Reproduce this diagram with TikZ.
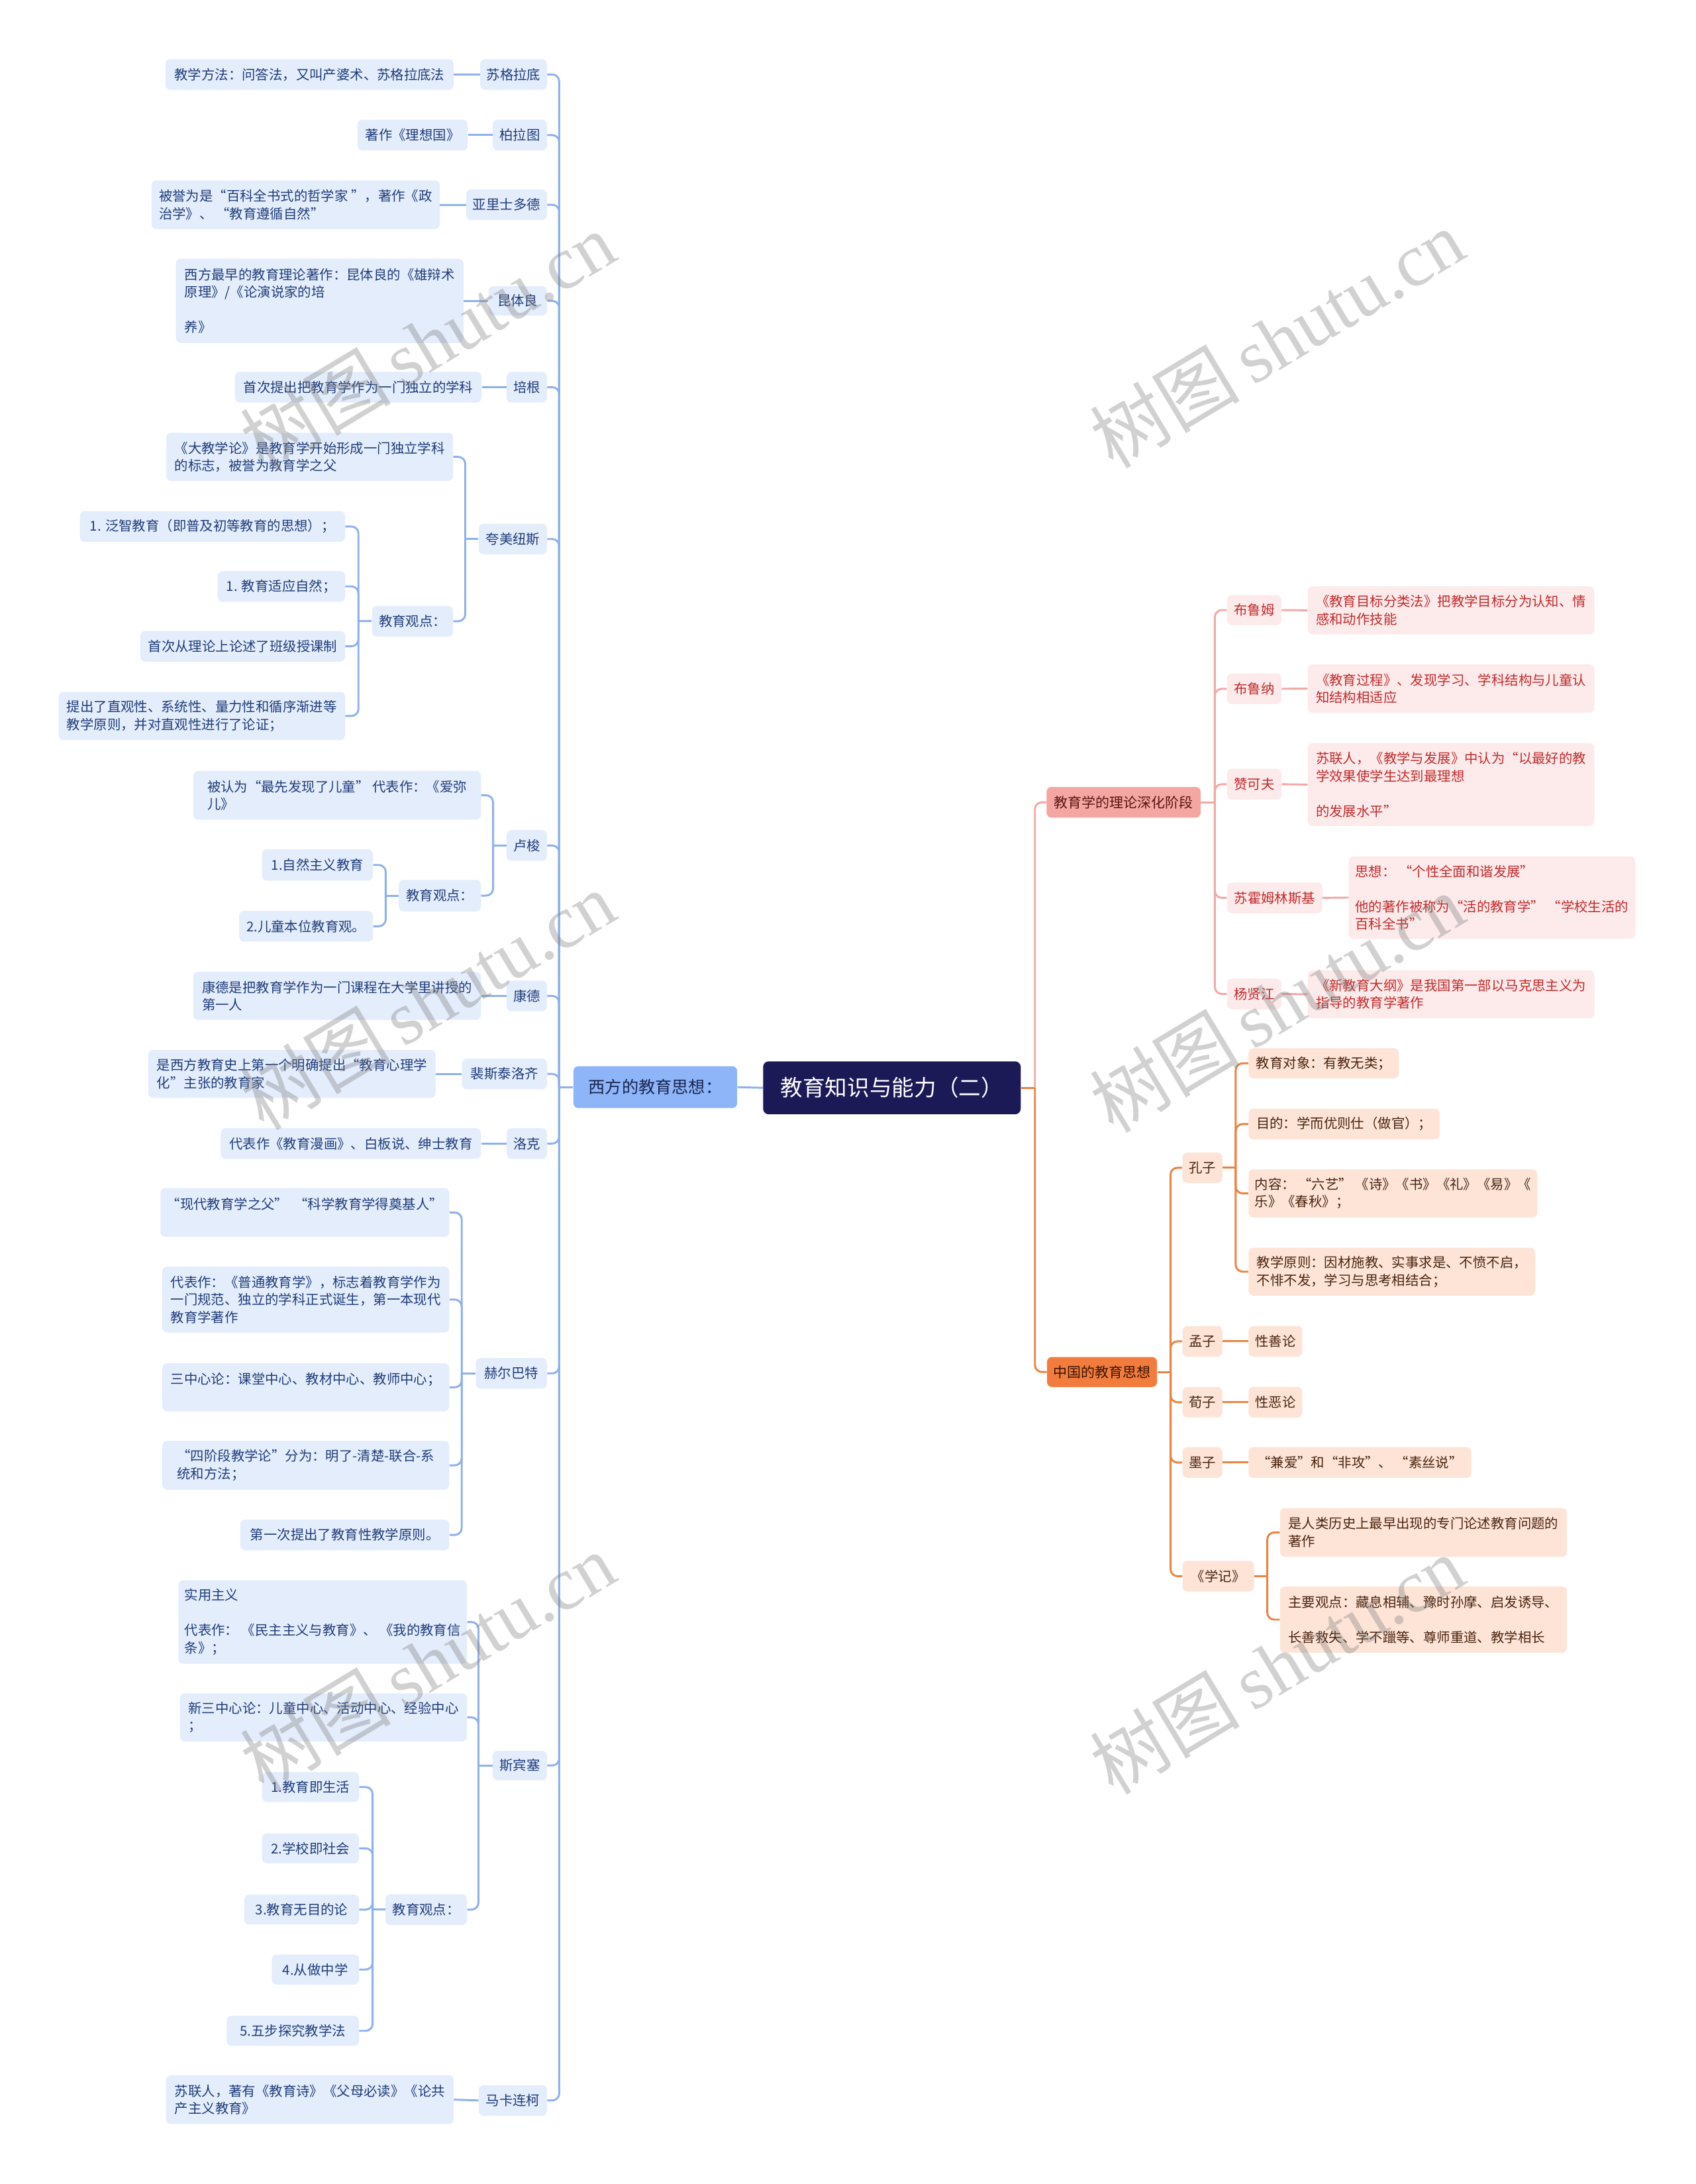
\documentclass[tikz,border=0pt]{standalone}
\usepackage{fontspec}
\setmainfont{Noto Sans CJK SC}
\newfontfamily\wmcjk{Noto Sans CJK SC}
\newfontfamily\wmlat{Liberation Serif}
\definecolor{cBf}{HTML}{E4EDFC}
\definecolor{cBt}{HTML}{1F3C7A}
\definecolor{cBl}{HTML}{8EB1EE}
\definecolor{cWf}{HTML}{8DB5F8}
\definecolor{cWt}{HTML}{1A2550}
\definecolor{cRoot}{HTML}{1B1A56}
\definecolor{cPf}{HTML}{FDEAEA}
\definecolor{cPt}{HTML}{C22B2B}
\definecolor{cPl}{HTML}{F2A9A6}
\definecolor{cPb}{HTML}{F4A6A2}
\definecolor{cPbt}{HTML}{5A1512}
\definecolor{cOf}{HTML}{FDE4D6}
\definecolor{cOt}{HTML}{4B2410}
\definecolor{cOl}{HTML}{EA8444}
\definecolor{cOb}{HTML}{F27C3E}
\definecolor{cObt}{HTML}{3A1404}
\begin{document}
\begin{tikzpicture}[x=1pt,y=-1pt,
  base/.style={rounded corners=3.5pt, inner xsep=4.5pt, inner ysep=0pt, align=left, font=\fontsize{9.7}{12.6}\selectfont},
  bx/.style={base, fill=cBf, text=cBt},
  px/.style={base, fill=cPf, text=cPt},
  ox/.style={base, fill=cOf, text=cOt},
  sz/.style 2 args={minimum width=#1, minimum height=#2},
  bl/.style={draw=cBl, line width=1.4pt},
  pl/.style={draw=cPl, line width=1.4pt},
  ol/.style={draw=cOl, line width=1.4pt},
  kid/.style={rounded corners=5pt},
  rootbox/.style={rounded corners=4pt, fill=cRoot, text=white, font=\fontsize{16}{19}\selectfont, inner sep=0pt},
  wm/.style={text=black!50, text opacity=0.36, font=\fontsize{54}{58}\selectfont, rotate=31, inner sep=0pt}
]
\useasboundingbox (0,0) rectangle (1217.5,1568);
\fill[white] (0,0) rectangle (1217.5,1568);

% root and main branches
\node[rootbox, sz={185}{38}] (R) at (640.5,781) {教育知识与能力（二）};
\node[base, fill=cWf, text=cWt, font=\fontsize{12}{14}\selectfont, anchor=east, sz={117.6}{30}] (W) at (529.6,780.5) {西方的教育思想：};
\node[base, fill=cPb, text=cPbt, font=\fontsize{10}{12}\selectfont, anchor=west, sz={110.6}{22}] (P) at (751.4,576) {教育学的理论深化阶段};
\node[base, fill=cOb, text=cObt, font=\fontsize{10}{12}\selectfont, anchor=west, sz={78}{21.5}] (O) at (751.7,985) {中国的教育思想};

% western level 2
\node[bx, anchor=east, sz={48}{22}] (su) at (393,53.5) {苏格拉底};
\node[bx, anchor=east, sz={39}{22}] (bo) at (393,97) {柏拉图};
\node[bx, anchor=east, sz={58}{22}] (ya) at (393,147) {亚里士多德};
\node[bx, anchor=east, sz={42}{21}] (kun) at (393,216) {昆体良};
\node[bx, anchor=east, sz={29}{22}] (pei) at (393,278) {培根};
\node[bx, anchor=east, sz={49}{22}] (kua) at (393,387) {夸美纽斯};
\node[bx, anchor=east, sz={29}{22}] (lu) at (393,607) {卢梭};
\node[bx, anchor=east, sz={29}{22}] (kang) at (393,715) {康德};
\node[bx, anchor=east, sz={61}{22}] (fei) at (393,771) {裴斯泰洛齐};
\node[bx, anchor=east, sz={29}{22}] (luo) at (393,821) {洛克};
\node[bx, anchor=east, sz={51}{22}] (he) at (393,986) {赫尔巴特};
\node[bx, anchor=east, sz={39}{21}] (si) at (393,1267.5) {斯宾塞};
\node[bx, anchor=east, sz={49}{22}] (ma) at (393,1508) {马卡连柯};

% western leaves
\node[bx, anchor=east, sz={207}{22}] (sul) at (326,53.5) {教学方法：问答法，又叫产婆术、苏格拉底法};
\node[bx, anchor=east, sz={79}{22}] (bol) at (336,97) {著作《理想国》};
\node[bx, anchor=east, sz={207}{35}] (yal) at (316,147) {被誉为是“百科全书式的哲学家 ”，著作《政\\治学》、 “教育遵循自然”};
\node[bx, anchor=east, sz={206.5}{60.5}] (kunl) at (333,216) {西方最早的教育理论著作：昆体良的《雄辩术\\原理》/《论演说家的培\\[12.6pt]养》};
\node[bx, anchor=east, sz={177}{22}] (peil) at (346,278) {首次提出把教育学作为一门独立的学科};
\node[bx, anchor=east, sz={206}{34.5}] (kual) at (325.6,328) {《大教学论》是教育学开始形成一门独立学科\\的标志，被誉为教育学之父};
\node[bx, anchor=east, sz={58.2}{22}] (kuag) at (325.6,446) {教育观点：};
\node[bx, anchor=east, sz={190.4}{22}] (kuag1) at (248,378) {1. 泛智教育（即普及初等教育的思想）；};
\node[bx, anchor=east, sz={91.5}{22}] (kuag2) at (248,421) {1. 教育适应自然；};
\node[bx, anchor=east, sz={147}{22}] (kuag3) at (248,464) {首次从理论上论述了班级授课制};
\node[bx, anchor=east, sz={205.7}{34.5}] (kuag4) at (248,514) {提出了直观性、系统性、量力性和循序渐进等\\教学原则，并对直观性进行了论证；};
\node[bx, anchor=east, sz={206.6}{35}] (lul) at (345.6,571) {被认为“最先发现了儿童” 代表作：《爱弥\\儿》};
\node[bx, anchor=east, sz={59}{22.6}] (lug) at (345.6,643) {教育观点：};
\node[bx, anchor=east, sz={79.6}{22.5}] (lug1) at (268,621) {1.自然主义教育};
\node[bx, anchor=east, sz={96}{22}] (lug2) at (268,665) {2.儿童本位教育观。};
\node[bx, anchor=east, sz={206.6}{34.5}] (kangl) at (345.6,715) {康德是把教育学作为一门课程在大学里讲授的\\第一人};
\node[bx, anchor=east, sz={206.3}{34.5}] (feil) at (313,771) {是西方教育史上第一个明确提出“教育心理学\\化”主张的教育家};
\node[bx, anchor=east, sz={186.8}{22}] (luol) at (345.6,821) {代表作《教育漫画》、白板说、绅士教育};
\node[bx, anchor=east, sz={206}{35}] (hel1) at (322.8,870.5) {“现代教育学之父”\ \ “科学教育学得奠基人”\\\mbox{}};
\node[bx, anchor=east, sz={206}{47.3}] (hel2) at (322.8,933) {代表作：《普通教育学》，标志着教育学作为\\一门规范、独立的学科正式诞生，第一本现代\\教育学著作};
\node[bx, anchor=east, sz={206}{34.5}] (hel3) at (322.8,996) {三中心论：课堂中心、教材中心、教师中心；\\\mbox{}};
\node[bx, anchor=east, sz={206}{35}] (hel4) at (322.8,1052) {“四阶段教学论”分为：明了-清楚-联合-系\\统和方法；};
\node[bx, anchor=east, sz={150}{22}] (hel5) at (322.8,1102) {第一次提出了教育性教学原则。};
\node[bx, anchor=east, sz={206.2}{60}] (sil1) at (335.6,1164.5) {实用主义\\[12.6pt]代表作： 《民主主义与教育》、 《我的教育信\\条》；};
\node[bx, anchor=east, sz={206.2}{34.5}] (sil2) at (335.6,1233) {新三中心论：儿童中心、活动中心、经验中心\\；};
\node[bx, anchor=east, sz={58.6}{22}] (sig) at (335.6,1371) {教育观点：};
\node[bx, anchor=east, sz={69.6}{21.5}] (sig1) at (258,1283) {1.教育即生活};
\node[bx, anchor=east, sz={69.6}{21.5}] (sig2) at (258,1327) {2.学校即社会};
\node[bx, anchor=east, sz={82.3}{21.5}] (sig3) at (258,1371) {3.教育无目的论};
\node[bx, anchor=east, sz={62.6}{21.5}] (sig4) at (258,1414) {4.从做中学};
\node[bx, anchor=east, sz={95}{21.5}] (sig5) at (258,1458) {5.五步探究教学法};
\node[bx, anchor=east, sz={206.5}{35}] (mal) at (326,1507.4) {苏联人，著有《教育诗》《父母必读》《论共\\产主义教育》};

% pink branch
\node[px, anchor=west, sz={39}{21.5}] (bl) at (881,438) {布鲁姆};
\node[px, anchor=west, sz={39}{22}] (bn) at (881,494.5) {布鲁纳};
\node[px, anchor=west, sz={39}{22}] (zk) at (881,563) {赞可夫};
\node[px, anchor=west, sz={68.4}{22}] (sh) at (881,644.6) {苏霍姆林斯基};
\node[px, anchor=west, sz={39}{22}] (yx) at (881,713.6) {杨贤江};
\node[px, anchor=west, sz={205.7}{34.5}] (bll) at (939,438.2) {《教育目标分类法》把教学目标分为认知、情\\感和动作技能};
\node[px, anchor=west, sz={205.7}{34.8}] (bnl) at (939,494.4) {《教育过程》、发现学习、学科结构与儿童认\\知结构相适应};
\node[px, anchor=west, sz={205.7}{59.4}] (zkl) at (939,563.3) {苏联人，《教学与发展》中认为“以最好的教\\学效果使学生达到最理想\\[12.6pt]的发展水平”};
\node[px, anchor=west, sz={205.6}{59.3}] (shl) at (968.4,644.4) {思想： “个性全面和谐发展”\\[12.6pt]他的著作被称为“活的教育学” “学校生活的\\百科全书”};
\node[px, anchor=west, sz={205.7}{34.5}] (yxl) at (939,713.8) {《新教育大纲》是我国第一部以马克思主义为\\指导的教育学著作};

% orange branch
\node[ox, anchor=west, sz={28.6}{21.8}] (kz) at (849,838.4) {孔子};
\node[ox, anchor=west, sz={28.6}{22}] (mz) at (849,963) {孟子};
\node[ox, anchor=west, sz={28.6}{21.8}] (xz) at (849,1006.7) {荀子};
\node[ox, anchor=west, sz={28.6}{22}] (mo) at (849,1050) {墨子};
\node[ox, anchor=west, sz={51.4}{22}] (xj) at (849,1131.6) {《学记》};
\node[ox, anchor=west, sz={108}{21.6}] (kz1) at (896.4,763.4) {教育对象：有教无类；};
\node[ox, anchor=west, sz={137.3}{22}] (kz2) at (896.4,807) {目的：学而优则仕（做官）；};
\node[ox, anchor=west, sz={206}{34.5}] (kz3) at (896.4,856.8) {内容： “六艺” 《诗》《书》《礼》《易》《\\乐》《春秋》；};
\node[ox, anchor=west, sz={206}{34.3}] (kz4) at (896.4,913) {教学原则：因材施教、实事求是、不愤不启，\\不悱不发，学习与思考相结合；};
\node[ox, anchor=west, sz={38.6}{22}] (mzl) at (896.4,963) {性善论};
\node[ox, anchor=west, sz={38.6}{22}] (xzl) at (896.4,1006.7) {性恶论};
\node[ox, anchor=west, sz={160}{22}] (mol) at (896.4,1050) {“兼爱”和“非攻”、 “素丝说”};
\node[ox, anchor=west, sz={206}{35}] (xj1) at (919,1100.2) {是人类历史上最早出现的专门论述教育问题的\\著作};
\node[ox, anchor=west, sz={206}{47.5}] (xj2) at (919,1162.8) {主要观点：藏息相辅、豫时孙摩、启发诱导、\\[12.6pt]长善救失、学不躐等、尊师重道、教学相长};

% ---- connectors: left ----
\draw[bl] (R.west) -- (W.east);
\path (W.west) ++(-10,0) coordinate (jW);
\draw[bl] (W.west) -- (jW);
\foreach \n in {su,bo,ya,kun,pei,kua,lu,kang,fei,luo,he,si,ma} \draw[bl,kid] (jW) |- (\n.east);
\foreach \a/\b in {su/sul,bo/bol,ya/yal,kun/kunl,pei/peil,kang/kangl,fei/feil,luo/luol,ma/mal} \draw[bl] (\a.west) -- (\b.east);
\path (kua.west) ++(-9.5,0) coordinate (jkua);
\draw[bl] (kua.west) -- (jkua);
\foreach \n in {kual,kuag} \draw[bl,kid] (jkua) |- (\n.east);
\path (kuag.west) ++(-9.6,0) coordinate (jkuag);
\draw[bl] (kuag.west) -- (jkuag);
\foreach \n in {kuag1,kuag2,kuag3,kuag4} \draw[bl,kid] (jkuag) |- (\n.east);
\path (lu.west) ++(-9.5,0) coordinate (jlu);
\draw[bl] (lu.west) -- (jlu);
\foreach \n in {lul,lug} \draw[bl,kid] (jlu) |- (\n.east);
\path (lug.west) ++(-9.2,0) coordinate (jlug);
\draw[bl] (lug.west) -- (jlug);
\foreach \n in {lug1,lug2} \draw[bl,kid] (jlug) |- (\n.east);
\path (he.west) ++(-10,0) coordinate (jhe);
\draw[bl] (he.west) -- (jhe);
\foreach \n in {hel1,hel2,hel3,hel4,hel5} \draw[bl,kid] (jhe) |- (\n.east);
\path (si.west) ++(-10,0) coordinate (jsi);
\draw[bl] (si.west) -- (jsi);
\foreach \n in {sil1,sil2,sig} \draw[bl,kid] (jsi) |- (\n.east);
\path (sig.west) ++(-9,0) coordinate (jsig);
\draw[bl] (sig.west) -- (jsig);
\foreach \n in {sig1,sig2,sig3,sig4,sig5} \draw[bl,kid] (jsig) |- (\n.east);

% ---- connectors: right ----
\path (R.east) ++(10,0) coordinate (jR);
\draw[ol] (R.east) -- (jR);
\draw[pl,kid] (jR) |- (P.west);
\draw[ol,kid] (jR) |- (O.west);
\path (P.east) ++(10,0) coordinate (jP);
\draw[pl] (P.east) -- (jP);
\foreach \n in {bl,bn,zk,sh,yx} \draw[pl,kid] (jP) |- (\n.west);
\foreach \a/\b in {bl/bll,bn/bnl,zk/zkl,sh/shl,yx/yxl} \draw[pl] (\a.east) -- (\b.west);
\path (O.east) ++(9.5,0) coordinate (jO);
\draw[ol] (O.east) -- (jO);
\foreach \n in {kz,mz,xz,mo,xj} \draw[ol,kid] (jO) |- (\n.west);
\path (kz.east) ++(9.4,0) coordinate (jkz);
\draw[ol] (kz.east) -- (jkz);
\foreach \n in {kz1,kz2,kz3,kz4} \draw[ol,kid] (jkz) |- (\n.west);
\foreach \a/\b in {mz/mzl,xz/xzl,mo/mol} \draw[ol] (\a.east) -- (\b.west);
\path (xj.east) ++(9.3,0) coordinate (jxj);
\draw[ol] (xj.east) -- (jxj);
\foreach \n in {xj1,xj2} \draw[ol,kid] (jxj) |- (\n.west);

% watermark
\foreach \i/\x/\y in {1/307/245,2/917/243,3/307/718,4/917/720,5/307/1193,6/917/1195}
  \node[wm] (wm\i) at (\x,\y) {{\wmcjk 树图}\,{\wmlat shutu.cn}};
\end{tikzpicture}
\end{document}
